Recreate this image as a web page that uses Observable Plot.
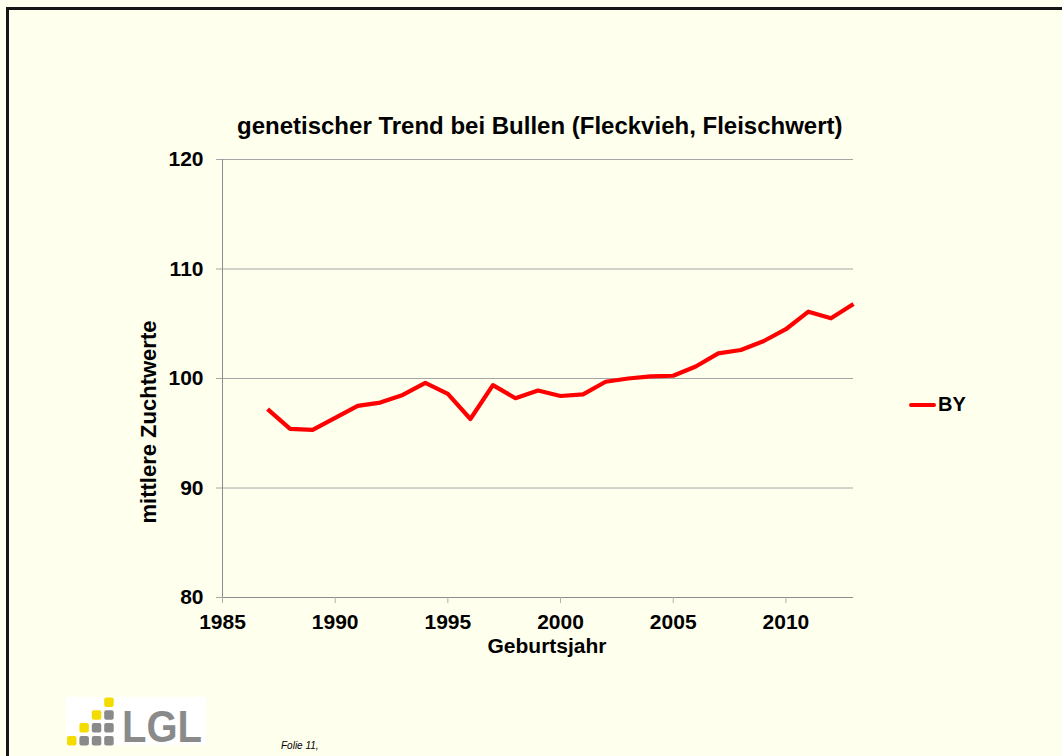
<!DOCTYPE html>
<html>
<head>
<meta charset="utf-8">
<script src="https://cdn.jsdelivr.net/npm/d3@7"></script>
<script src="https://cdn.jsdelivr.net/npm/@observablehq/plot@0.6"></script>
<style>
  html, body { margin: 0; padding: 0; background: #FFFFEE; }
  body { width: 1062px; height: 756px; position: relative; overflow: hidden;
         font-family: "Liberation Sans", Arial, sans-serif; }
  .abs { position: absolute; line-height: 1; white-space: nowrap; color: #000; }
  #frame { position: absolute; left: 6px; top: 7px; right: -10px; bottom: -10px;
           border-top: 3px solid #151515; border-left: 3px solid #151515; }
  #chart { position: absolute; left: 0; top: 0; }
  #chart svg { background: transparent; overflow: visible; }
</style>
</head>
<body>
<div id="frame"></div>
<div id="chart"></div>
<div class="abs" id="title" style="left:237px; width:604px; text-align:center; top:114px; font-size:24px; font-weight:bold;"></div>
<div class="abs" id="xlabel" style="left:447px; width:200px; text-align:center; top:635px; font-size:21px; font-weight:bold;"></div>
<div class="abs" id="ylabel" style="left:148.5px; top:422px; font-size:22px; font-weight:bold; transform:translate(-50%,-50%) rotate(-90deg);"></div>
<div class="abs" id="legend" style="left:909px; top:394px; font-size:20px; font-weight:bold; display:flex; align-items:center;">
  <span style="display:inline-block; width:27px; height:4px; background:#FF0000; border-radius:2px; margin-right:2px; margin-top:1px;"></span><span id="legtext"></span>
</div>
<div class="abs" id="logo" style="left:66px; top:697px; width:140px; height:48px; background:#fff; overflow:visible;">
  <svg width="140" height="48" style="position:absolute;left:0;top:0;overflow:visible;">
    <g id="logosq"></g>
    <text x="56" y="45" font-family="Liberation Sans, Arial, sans-serif" font-weight="bold" font-size="44" fill="#8a8a8a" textLength="80" lengthAdjust="spacingAndGlyphs">LGL</text>
  </svg>
</div>
<div class="abs" id="footer" style="left:281px; top:741px; font-size:10px; font-style:italic;"></div>
<script>
// ---- data ----
const years = [1987,1988,1989,1990,1991,1992,1993,1994,1995,1996,1997,1998,1999,2000,
               2001,2002,2003,2004,2005,2006,2007,2008,2009,2010,2011,2012,2013];
const valuesBY = [97.2,95.4,95.3,96.4,97.5,97.8,98.5,99.6,98.6,96.3,99.4,98.2,98.9,98.4,
                  98.55,99.7,100.0,100.2,100.25,101.1,102.3,102.6,103.4,104.5,106.1,105.5,106.8];
const xTicks = [1985,1990,1995,2000,2005,2010];
const yTicks = [80,90,100,110,120];
const seriesName = "BY";
const titleText = "genetischer Trend bei Bullen (Fleckvieh, Fleischwert)";
const xLabelText = "Geburtsjahr";
const yLabelText = "mittlere Zuchtwerte";
const footerText = "Folie 11,";

const rows = years.map((y, i) => ({year: y, value: valuesBY[i]}));

document.getElementById("title").textContent = titleText;
document.getElementById("xlabel").textContent = xLabelText;
document.getElementById("ylabel").textContent = yLabelText;
document.getElementById("legtext").textContent = seriesName;
document.getElementById("footer").textContent = footerText;

// logo squares (decorative)
const sq = document.getElementById("logosq");
const pattern = [
  [null,null,null,"y"],
  [null,null,"y","g"],
  [null,"y","g","g"],
  ["y","g","g","g"]
];
pattern.forEach((row, r) => row.forEach((c, k) => {
  if (!c) return;
  const rect = document.createElementNS("http://www.w3.org/2000/svg", "rect");
  rect.setAttribute("x", 1 + k * 12.4);
  rect.setAttribute("y", 0.5 + r * 12.8);
  rect.setAttribute("width", 9.5);
  rect.setAttribute("height", 9.5);
  rect.setAttribute("rx", 2);
  rect.setAttribute("fill", c === "y" ? "#F5DC00" : "#8a8a8a");
  sq.appendChild(rect);
}));

const chart = Plot.plot({
  width: 1062,
  height: 756,
  marginLeft: 222,
  marginRight: 209,
  marginTop: 159,
  marginBottom: 159,
  style: {background: "transparent", fontFamily: "Liberation Sans, Arial, sans-serif", color: "#000"},
  x: {domain: [1985, 2013], ticks: xTicks, tickFormat: d => String(d)},
  y: {domain: [80, 120], ticks: yTicks},
  marks: [
    Plot.gridY(yTicks.filter(t => t > 80), {stroke: "#a6a6a6", strokeOpacity: 1}),
    Plot.ruleX([1985], {stroke: "#8c8c8c"}),
    Plot.ruleY([80], {stroke: "#8c8c8c"}),
    Plot.axisY({ticks: yTicks, tickSize: 6, tickPadding: 13, stroke: "#a6a6a6", fill: "#000",
                fontSize: 21, fontWeight: "bold", label: null}),
    Plot.axisX({ticks: xTicks, tickSize: 6, tickPadding: 11, stroke: "#b0b0b0", fill: "#000",
                fontSize: 21, fontWeight: "bold", label: null, tickFormat: d => String(d)}),
    Plot.line(rows, {x: "year", y: "value", stroke: "#FF0000", strokeWidth: 4.2, strokeLinejoin: "round", strokeLinecap: "butt"})
  ]
});
document.getElementById("chart").appendChild(chart);
</script>
</body>
</html>
